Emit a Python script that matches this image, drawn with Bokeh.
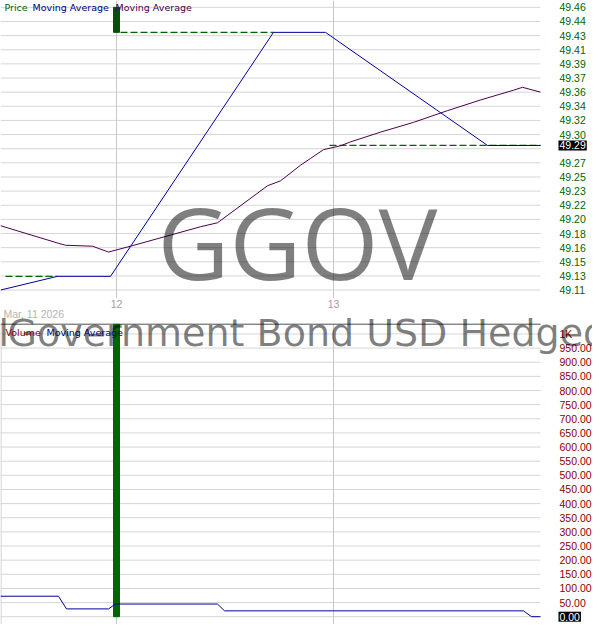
from bokeh.plotting import figure
from bokeh.models import Range1d, Label, ColumnDataSource
from bokeh.core.properties import value
from bokeh.embed import file_html
from bokeh.resources import INLINE

# ---------------- data ----------------
x_ticks = [12, 13]
x_tick_labels = ["12", "13"]
date_label = "Mar, 11 2026"

price_days = [11.4654, 11.7281, 11.9724, 12.7235, 12.9631, 13.7097, 13.9539]
price_vals = [49.110, 49.127, 49.127, 49.429, 49.429, 49.289, 49.289]

ma_days = [11.4654, 11.7327, 11.7650, 11.8894, 11.9631, 12.0645, 12.3871, 12.4654,
           12.6959, 12.7558, 12.8479, 12.8940, 12.9539, 13.0323, 13.0783, 13.2166,
           13.3687, 13.5253, 13.6774, 13.8295, 13.8710, 13.9539]
ma_vals = [49.1897, 49.1679, 49.1655, 49.1643, 49.1571, 49.1643, 49.1884, 49.1933,
           49.2391, 49.2452, 49.2645, 49.2729, 49.2838, 49.2886, 49.2934, 49.3055,
           49.3176, 49.3321, 49.3453, 49.3574, 49.3610, 49.3550]

level_start = [11.4885, 12.0184, 12.9816]
level_end = [11.7281, 12.7235, 13.9539]
level_vals = [49.127, 49.429, 49.289]

candle_days = [12.0]
candle_open = [49.429]
candle_close = [49.460]

last_price = 49.289

volume_days = [12.0]
volume_vals = [1034]

vol_ma_days = [11.4654, 11.7327, 11.7696, 11.9631, 11.9954, 12.4654, 12.4977,
               13.8756, 13.9124, 13.9539]
vol_ma_vals = [72.4, 72.4, 27.6, 27.6, 44.8, 44.8, 20.7, 20.7, 0.0, 0.0]
last_volume = 0

price_ticks = [49.11, 49.1275, 49.145, 49.1625, 49.18, 49.1975, 49.215, 49.2325,
               49.25, 49.2675, 49.285, 49.3025, 49.32, 49.3375, 49.355, 49.3725,
               49.39, 49.4075, 49.425, 49.4425, 49.46]
price_tick_labels = ["49.11", "49.13", "49.15", "49.16", "49.18", "49.20", "49.22",
                     "49.23", "49.25", "49.27", "", "49.30", "49.32", "49.34",
                     "49.36", "49.37", "49.39", "49.41", "49.43", "49.44", "49.46"]

vol_ticks = [0, 50, 100, 150, 200, 250, 300, 350, 400, 450, 500, 550, 600, 650,
             700, 750, 800, 850, 900, 950, 1000]
vol_tick_labels = ["", "50.00", "100.00", "150.00", "200.00", "250.00", "300.00",
                   "350.00", "400.00", "450.00", "500.00", "550.00", "600.00",
                   "650.00", "700.00", "750.00", "800.00", "850.00", "900.00",
                   "950.00", "1K"]

ticker_name = "GGOV"
fund_name_a = "l"
fund_name_b = "Government Bond USD Hedged"

# ---------------- layout helpers (reference pixels -> data) ----------------
W, H = 592, 624
PX_PER_DAY = 217.0


def day_at(px):
    return 12 + (px - 116) / PX_PER_DAY


def price_at(ry):
    return 49.46 - (ry - 7) * 0.35 / 290.0


def vol_at(ry):
    return (632 - ry) * 1000 / 290.0


X0, X1 = day_at(0), day_at(W)
GRID_END = day_at(540)
TICK_X = day_at(559)
BORDER_Y = 332

GRID_H = "#d6d6d6"
GRID_V = "#c8c8c8"
TICK_FONT = value("Liberation Sans")
LEG_FONT = "DejaVu Sans"
VOL = "vol"

p = figure(width=W, height=H, x_range=Range1d(X0, X1),
           y_range=Range1d(price_at(640), price_at(0)),
           output_backend="svg", toolbar_location=None,
           x_axis_location=None, y_axis_location=None,
           min_border_left=0, min_border_right=0, min_border_top=0,
           min_border_bottom=0)
p.extra_y_ranges = {VOL: Range1d(vol_at(640), vol_at(0))}
p.outline_line_color = None
p.background_fill_color = "white"
p.border_fill_color = "white"
p.xgrid.visible = False
p.ygrid.visible = False

# ---------------- grids ----------------
p.segment(x0=[X0] * len(price_ticks), y0=price_ticks,
          x1=[GRID_END] * len(price_ticks), y1=price_ticks,
          line_color=GRID_H, line_width=1)
p.segment(x0=x_ticks, y0=[price_at(0)] * len(x_ticks), x1=x_ticks,
          y1=[price_at(305)] * len(x_ticks), line_color=GRID_V, line_width=1)

p.segment(x0=[X0] * len(vol_ticks), y0=vol_ticks,
          x1=[GRID_END] * len(vol_ticks), y1=vol_ticks,
          line_color=GRID_H, line_width=1, y_range_name=VOL)
p.segment(x0=x_ticks + [day_at(0.5)], y0=[vol_at(BORDER_Y)] * 3,
          x1=x_ticks + [day_at(0.5)], y1=[vol_at(640)] * 3,
          line_color=GRID_V, line_width=1, y_range_name=VOL)
p.segment(x0=[X0], y0=[vol_at(BORDER_Y)], x1=[GRID_END], y1=[vol_at(BORDER_Y)],
          line_color="#505050", line_width=1, y_range_name=VOL)

# ---------------- watermarks ----------------
p.add_layout(Label(x=day_at(297), y=price_at(247), text=ticker_name,
                   text_align="center", text_baseline="middle",
                   text_font="Open Sans", text_font_size="99px",
                   text_color="black", text_alpha=0.5))
p.add_layout(Label(x=day_at(-2), y=vol_at(341), text=fund_name_a, y_range_name=VOL,
                   text_align="left", text_baseline="middle",
                   text_font="DejaVu Sans", text_font_size="38px",
                   text_color="black", text_alpha=0.5))
p.add_layout(Label(x=day_at(7), y=vol_at(341), text=fund_name_b, y_range_name=VOL,
                   text_align="left", text_baseline="middle",
                   text_font="DejaVu Sans", text_font_size="38px",
                   text_color="black", text_alpha=0.5))

# ---------------- price series ----------------
p.segment(x0=level_start, y0=level_vals, x1=level_end, y1=level_vals,
          line_color="#006400", line_width=1.3, line_dash="7 3")
p.line(ma_days, ma_vals, line_color="#4b0050", line_width=1)
p.line(price_days, price_vals, line_color="#00009c", line_width=1)
p.vbar(x=candle_days, bottom=candle_open, top=candle_close, width=6 / PX_PER_DAY,
       fill_color="#0b4d0b", line_color="#0b4d0b")

# ---------------- volume series ----------------
p.vbar(x=volume_days, bottom=0, top=volume_vals, width=6 / PX_PER_DAY,
       fill_color="#006400", line_color="#006400", y_range_name=VOL)
p.line(vol_ma_days, vol_ma_vals, line_color="#00009c", line_width=1,
       y_range_name=VOL)

# ---------------- axis labels ----------------
src_pt = ColumnDataSource(dict(x=[TICK_X] * len(price_ticks), y=price_ticks,
                               t=price_tick_labels))
p.text(x="x", y="y", text="t", source=src_pt, text_font=TICK_FONT,
       text_font_size="10.5px", text_color="#006400", text_align="left",
       text_baseline="middle")

src_vt = ColumnDataSource(dict(x=[TICK_X] * len(vol_ticks), y=vol_ticks,
                               t=vol_tick_labels))
p.text(x="x", y="y", text="t", source=src_vt, text_font=TICK_FONT,
       text_font_size="10.5px", text_color="#8b0000", text_align="left",
       text_baseline="middle", y_range_name=VOL)

src_xt = ColumnDataSource(dict(x=x_ticks, y=[vol_at(311)] * len(x_ticks),
                               t=x_tick_labels))
p.text(x="x", y="y", text="t", source=src_xt, text_font=TICK_FONT,
       text_font_size="10.5px", text_color="#a0a0a0", text_align="center",
       text_baseline="middle", y_range_name=VOL)

# date caption under the time axis labels
src_dt = ColumnDataSource(dict(x=[day_at(3)], y=[price_at(322)], t=[date_label]))
p.text(x="x", y="y", text="t", source=src_dt, text_font=TICK_FONT,
       text_font_size="10.5px", text_color="#b4b4b4", text_align="left",
       text_baseline="middle")

# ---------------- legends ----------------
for txt, px, col in [("Price", 4, "#006400"), ("Moving Average", 32, "#000080"),
                     ("Moving Average", 115, "#4b0050")]:
    p.add_layout(Label(x=day_at(px), y=price_at(7), text=txt, text_align="left",
                       text_baseline="middle", text_font=LEG_FONT,
                       text_font_size="9.5px", text_color=col))

for txt, px, col in [("Volume", 5, "#8b0000"), ("Moving Average", 46, "#000080")]:
    p.add_layout(Label(x=day_at(px), y=vol_at(341), text=txt, y_range_name=VOL,
                       text_align="left", text_baseline="middle", text_font=LEG_FONT,
                       text_font_size="9.5px", text_color=col))

# ---------------- last value boxes ----------------
p.add_layout(Label(x=day_at(558), y=last_price, text=f"{last_price:.2f}",
                   text_align="left", text_baseline="middle",
                   text_font="Liberation Sans", text_font_size="10.5px",
                   text_color="white", background_fill_color="black", padding=1))
p.add_layout(Label(x=day_at(558), y=last_volume, text=f"{last_volume:.2f}",
                   y_range_name=VOL, text_align="left", text_baseline="middle",
                   text_font="Liberation Sans", text_font_size="10.5px",
                   text_color="white", background_fill_color="black", padding=1))

open("out.html", "w").write(file_html(p, INLINE))
